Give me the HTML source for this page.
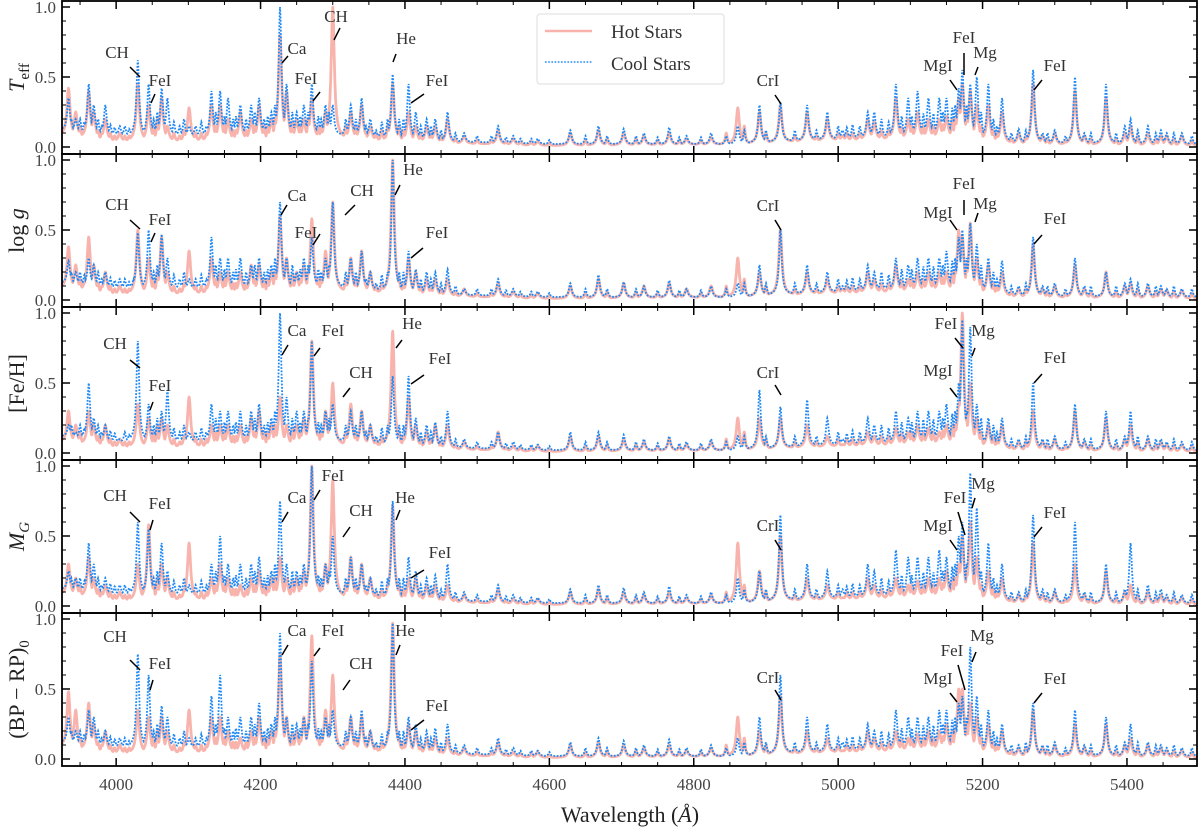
<!DOCTYPE html>
<html><head><meta charset="utf-8"><style>
html,body{margin:0;padding:0;background:#fff}
svg{display:block;font-family:"Liberation Serif","DejaVu Serif",serif}
</style></head><body>
<svg id="chart" width="1200" height="829" viewBox="0 0 1200 829" xmlns="http://www.w3.org/2000/svg"></svg>
<script>
// ---- data ----
const lineWavelengths=[3934,3944,3962,3969,3985,4005,4030,4045,4063,4071,4101,
4132,4144,4155,4172,4187,4198,4215,4227,4236,4250,
4260,4271,4290,4300,4325,4340,4352,4383,4405,4415,
4430,4442,4459,4482,4529,4550,4584,4629,4668,4703,
4731,4766,4790,4824,4861,4891,4920,4957,4985,5006,
5041,5050,5080,5097,5110,5125,5140,5150,5167,5172,
5183,5192,5208,5227,5250,5270,5283,5300,5328,5341,
5371,5397,5405,5429,5447,5455,5476];
const panelLabels=["Teff","logg","FeH","MG","BPRP"];
const hotTeff=[.42,.25,.4,.25,.2,.1,.45,.3,.35,.15,.28, .3,.3,.2,.25,.2,.3,.2,.8,.4,.2, .2,.35,.25,1.0,.25,.3,.15,.45,.25,.15, .15,.15,.2,.08,.12,.06,.04,.1,.12,.1, .08,.1,.06,.07,.28,.25,.3,.25,.2,.08, .2,.18,.35,.2,.25,.2,.2,.22,.35,.45, .4,.3,.3,.25,.1,.45,.08,.1,.4,.08, .35,.1,.15,.1,.08,.08,.08];
const coolTeff=[.35,.2,.45,.3,.3,.15,.62,.45,.42,.35,.15, .4,.4,.35,.3,.3,.35,.25,1.0,.45,.25, .3,.45,.3,.3,.3,.35,.2,.52,.45,.25, .2,.2,.25,.1,.15,.08,.06,.12,.15,.13, .1,.14,.08,.1,.15,.3,.32,.3,.25,.12, .25,.25,.45,.35,.4,.35,.35,.35,.42,.55, .45,.5,.45,.35,.13,.55,.1,.12,.5,.1, .45,.15,.2,.15,.12,.1,.1];
const hotLogg=[.38,.25,.45,.25,.2,.1,.5,.3,.45,.2,.35, .3,.2,.2,.2,.25,.25,.2,.6,.3,.2, .25,.58,.35,.7,.3,.35,.2,1.0,.3,.2, .15,.15,.15,.08,.12,.06,.05,.1,.15,.12, .1,.12,.08,.1,.3,.2,.5,.2,.15,.08, .2,.15,.25,.15,.2,.2,.2,.2,.5,.45, .55,.3,.25,.2,.08,.4,.08,.1,.25,.08, .2,.1,.12,.1,.08,.07,.07];
const coolLogg=[.28,.2,.3,.25,.2,.15,.48,.5,.47,.3,.15, .45,.3,.3,.3,.25,.3,.25,.7,.3,.2, .3,.45,.3,.7,.3,.35,.2,1.0,.35,.22, .2,.2,.22,.08,.15,.08,.06,.12,.18,.13, .1,.14,.08,.1,.12,.25,.5,.25,.2,.1, .25,.2,.3,.25,.3,.3,.3,.35,.45,.5, .55,.4,.3,.28,.1,.45,.1,.12,.3,.1, .2,.12,.15,.12,.1,.08,.08];
const hotFeH=[.3,.2,.3,.2,.2,.1,.35,.25,.25,.2,.4, .2,.2,.2,.2,.25,.3,.2,.4,.2,.2, .25,.8,.3,.5,.35,.3,.2,.87,.4,.2, .15,.2,.2,.08,.15,.05,.05,.12,.12,.1, .08,.1,.06,.08,.25,.25,.25,.2,.12,.06, .15,.12,.18,.15,.2,.18,.15,.2,.35,1.0, .5,.25,.2,.2,.08,.3,.08,.1,.3,.08, .25,.1,.2,.1,.08,.06,.06];
const coolFeH=[.2,.15,.5,.25,.2,.1,.8,.35,.3,.45,.15, .35,.3,.3,.3,.3,.35,.25,1.0,.4,.3, .3,.8,.3,.35,.3,.3,.2,.55,.55,.25, .2,.22,.3,.1,.15,.08,.06,.15,.15,.13, .1,.12,.08,.1,.12,.45,.33,.38,.25,.1, .25,.2,.3,.25,.3,.3,.3,.35,.5,.95, .9,.35,.25,.25,.1,.5,.1,.12,.35,.1, .3,.12,.3,.12,.1,.08,.08];
const hotMG=[.3,.2,.35,.2,.15,.1,.3,.58,.3,.2,.45, .2,.3,.2,.15,.2,.25,.2,.35,.2,.2, .25,1.0,.3,.9,.35,.3,.2,.72,.2,.2, .15,.15,.15,.08,.12,.05,.05,.1,.12,.1, .08,.1,.06,.08,.45,.25,.5,.2,.15,.06, .2,.15,.2,.15,.18,.2,.2,.25,.3,.5, .6,.35,.25,.2,.08,.45,.08,.1,.3,.08, .25,.1,.15,.1,.08,.06,.06];
const coolMG=[.25,.2,.45,.3,.2,.15,.6,.55,.45,.25,.15, .3,.5,.3,.3,.3,.35,.25,.75,.3,.25, .3,1.0,.3,.5,.35,.3,.2,.75,.35,.25, .2,.22,.3,.1,.15,.08,.06,.12,.15,.13, .1,.14,.08,.1,.2,.25,.65,.3,.25,.12, .3,.25,.4,.35,.35,.35,.4,.35,.5,.6, .95,.7,.45,.3,.1,.65,.12,.12,.6,.1, .3,.12,.45,.15,.12,.08,.08];
const hotBPRP=[.48,.35,.4,.25,.2,.1,.35,.3,.3,.2,.35, .3,.3,.2,.15,.2,.3,.2,.75,.3,.2, .3,.88,.35,.6,.3,.3,.2,.97,.25,.2, .15,.15,.15,.08,.12,.05,.05,.1,.12,.1, .08,.1,.06,.08,.3,.2,.45,.2,.15,.06, .2,.15,.2,.15,.18,.2,.2,.25,.5,.5, .4,.3,.25,.2,.08,.35,.08,.1,.25,.08, .25,.1,.15,.1,.08,.06,.06];
const coolBPRP=[.3,.2,.35,.3,.2,.15,.75,.6,.38,.3,.15, .45,.6,.3,.3,.3,.4,.25,.9,.3,.25, .3,.7,.3,.35,.3,.35,.2,.97,.3,.25, .2,.22,.25,.1,.15,.08,.06,.12,.15,.13, .1,.14,.08,.1,.15,.3,.6,.3,.25,.12, .25,.2,.35,.3,.3,.3,.35,.35,.4,.45, .8,.45,.35,.25,.1,.4,.1,.12,.35,.1, .3,.12,.25,.12,.1,.08,.08];
const weakWavelengths=[3938,3950,3956,3975,3980,3992,3998,4012,4018,4024,4052,4057,4080,4088,4094,4110,4118,4125,4138,4150,4162,4166,4180,4192,4205,4210,4220,4244,4255,4266,4280,4284,4295,4318,4332,4346,4360,4368,4376,4392,4398,4422,4436,4450,4470,4500,4520,4540,4560,4575,4600,4650,4680,4720,4750,4780,4810,4845,4870,4900,4940,4970,5000,5012,5020,5030,5060,5070,5088,5102,5118,5132,5145,5158,5162,5178,5198,5215,5220,5240,5260,5290,5315,5350,5385,5415,5440,5465,5490];
const coolWeak=[.2,.2,.18,.2,.15,.16,.14,.15,.13,.15,.2,.25,.18,.15,.2,.15,.18,.15,.25,.22,.2,.22,.2,.25,.2,.22,.3,.25,.22,.25,.22,.2,.25,.2,.2,.15,.12,.18,.2,.2,.2,.15,.15,.12,.1,.08,.08,.07,.06,.06,.05,.08,.08,.08,.07,.07,.07,.08,.12,.12,.12,.12,.15,.14,.16,.15,.2,.18,.22,.22,.24,.24,.25,.28,.3,.3,.25,.2,.15,.1,.12,.1,.08,.1,.1,.12,.1,.1,.08];
const hotWeak=[.12,.15,.1,.12,.1,.1,.08,.08,.08,.08,.15,.2,.1,.08,.12,.1,.1,.1,.15,.15,.12,.12,.12,.15,.15,.15,.2,.18,.15,.2,.15,.15,.2,.15,.15,.1,.1,.12,.15,.15,.12,.1,.1,.08,.06,.05,.05,.04,.04,.04,.03,.05,.06,.06,.05,.05,.05,.1,.15,.1,.08,.08,.1,.1,.1,.1,.12,.12,.14,.15,.15,.15,.16,.2,.2,.25,.15,.12,.1,.06,.08,.06,.05,.06,.06,.08,.06,.06,.05];
const baseKnotsX=[3925,4000,4200,4300,4450,4600,4850,5000,5160,5250,5500];
const hotBase=[.08,.04,.05,.06,.03,.01,.02,.05,.07,.02,.01];
const coolBase=[.12,.08,.09,.09,.04,.02,.02,.06,.1,.03,.02];
const xTicks=[4000,4200,4400,4600,4800,5000,5200,5400];
const yTicks=[0,0.5,1.0];
const yTickLabels=["0.0","0.5","1.0"];

const hotSeries=[hotTeff,hotLogg,hotFeH,hotMG,hotBPRP];
const coolSeries=[coolTeff,coolLogg,coolFeH,coolMG,coolBPRP];

// ---- layout ----
const svg=document.getElementById('chart');
const NS='http://www.w3.org/2000/svg';
const L=62,R=1197,X0=3925,X1=5497;
const tops=[1,154,307,460,613],PH=153;
function xs(l){return L+(l-X0)*(R-L)/(X1-X0);}
function ys(k,v){return tops[k]+6+(1-v)*140;}
function mk(tag,attrs,parent){const e=document.createElementNS(NS,tag);for(const a in attrs)e.setAttribute(a,attrs[a]);(parent||svg).appendChild(e);return e;}
function interp(kx,kv,l){for(let i=0;i<kx.length-1;i++){if(l<=kx[i+1]){const t=(l-kx[i])/(kx[i+1]-kx[i]);return kv[i]+t*(kv[i+1]-kv[i]);}}return kv[kv.length-1];}
function spectrum(heights,weak,base,w){const pts=[];for(let l=X0;l<=X1;l+=0.5){const b=interp(baseKnotsX,base,l);let v=b;
 for(let i=0;i<lineWavelengths.length;i++){const d=(l-lineWavelengths[i])/w;if(Math.abs(d)<40){const p=b+(heights[i]-b)/(1+d*d);if(p>v)v=p;}}
 for(let i=0;i<weakWavelengths.length;i++){const d=(l-weakWavelengths[i])/1.6;if(Math.abs(d)<20){const p=b+(weak[i]-b)/(1+d*d);if(p>v)v=p;}}
 pts.push([l,v]);}return pts;}

const yTitles=[
 ['<tspan font-style="italic">T</tspan><tspan font-size="15" dy="5">eff</tspan>'],
 ['log <tspan font-style="italic">g</tspan>'],
 ['[Fe/H]'],
 ['<tspan font-style="italic">M</tspan><tspan font-size="15" dy="5" font-style="italic">G</tspan>'],
 ['(BP − RP)<tspan font-size="15" dy="5">0</tspan>']];

const ann=[
 [["CH",117,51,130,66,140,76],["FeI",160,79,155,93,151,102],["Ca",297,47,288,55,282,62],["CH",336,15,340,27,334,39],["FeI",306,77,320,91,313,100],["He",406,37,396,53,393,61],["FeI",437,79,424,93,411,102],["CrI",768,79,775,94,781,103],["MgI",938,64,950,79,957,89],["FeI",964,36,964,52,964,74],["Mg",985,51,978,66,975,74],["FeI",1055,64,1042,79,1034,89]],
 [["CH",117,50,130,66,140,75],["FeI",160,65,155,79,151,88],["Ca",297,41,287,51,281,61],["FeI",306,78,320,80,313,91],["CH",362,36,355,51,345,61],["He",413,15,400,31,395,41],["FeI",437,78,423,94,411,104],["CrI",768,51,775,66,781,76],["MgI",938,58,950,66,957,76],["FeI",964,29,964,46,964,61],["Mg",985,49,978,59,975,68],["FeI",1055,64,1042,81,1034,90]],
 [["CH",115,36,130,53,140,61],["FeI",160,78,153,95,150,103],["Ca",297,23,288,38,282,48],["FeI",333,23,320,41,314,49],["CH",361,65,350,81,343,90],["He",412,16,402,33,396,41],["FeI",440,51,424,68,411,77],["CrI",768,65,775,78,781,88],["FeI",946,16,955,31,963,41],["Mg",983,23,975,41,972,49],["MgI",938,63,950,81,957,90],["FeI",1055,50,1042,67,1034,76]],
 [["CH",115,35,130,52,140,62],["FeI",160,43,153,60,150,70],["Ca",297,37,288,52,282,62],["FeI",333,15,320,30,314,40],["CH",361,50,350,67,343,77],["He",405,37,400,50,396,60],["FeI",440,92,424,110,411,118],["CrI",768,65,775,80,781,90],["Mg",983,23,975,38,972,48],["FeI",955,37,958,52,965,75],["MgI",938,65,950,80,957,90],["FeI",1055,52,1042,67,1034,77]],
 [["CH",115,23,130,47,140,57],["FeI",160,50,153,67,150,77],["Ca",297,17,288,32,282,42],["FeI",333,17,320,35,314,43],["CH",361,50,350,67,343,77],["He",405,17,400,32,396,42],["FeI",437,92,424,107,411,117],["CrI",768,64,775,77,781,87],["Mg",982,22,976,39,972,49],["FeI",952,37,958,52,965,77],["MgI",938,65,950,80,957,89],["FeI",1055,65,1042,80,1034,90]]
];

for(let k=0;k<5;k++){
 const g=mk('g',{});
 
 
 const clipId='clip'+k;
 const cp=mk('clipPath',{id:clipId},g);mk('rect',{x:L,y:tops[k],width:R-L,height:PH},cp);
 const hot=spectrum(hotSeries[k],hotWeak,hotBase,2.6);
 const cool=spectrum(coolSeries[k],coolWeak,coolBase,2.2);
 const hp=mk('path',{d:'M'+hot.map(p=>xs(p[0]).toFixed(1)+','+ys(k,p[1]).toFixed(1)).join('L'),fill:'none',stroke:'#f8b4ac',"stroke-width":2.8,"stroke-linejoin":"round","clip-path":`url(#${clipId})`},g);
 
 
 const cpth=mk('path',{d:'M'+cool.map(p=>xs(p[0]).toFixed(1)+','+ys(k,p[1]).toFixed(1)).join('L'),fill:'none',stroke:'#1e88f5',"stroke-width":1.8,"stroke-dasharray":"1.8 1.5","clip-path":`url(#${clipId})`},g);
 
 
 for(let l=3950;l<=X1;l+=50){const major=(l%200===0);const len=major?8:4;const x=xs(l);
  mk('line',{x1:x,x2:x,y1:tops[k],y2:tops[k]+len,stroke:'#000','stroke-width':major?1.5:1},g);
  mk('line',{x1:x,x2:x,y1:tops[k]+PH,y2:tops[k]+PH-len,stroke:'#000','stroke-width':major?1.5:1},g);}
 for(let i=0;i<=10;i++){const v=i/10;const major=(i%5===0);const len=major?8:4;const y=ys(k,v);
  mk('line',{x1:L,x2:L+len,y1:y,y2:y,stroke:'#000','stroke-width':major?1.5:1},g);
  mk('line',{x1:R,x2:R-len,y1:y,y2:y,stroke:'#000','stroke-width':major?1.5:1},g);}
 yTicks.forEach((v,i)=>{const t=mk('text',{x:L-6,y:ys(k,v)+6,'text-anchor':'end','font-size':17,fill:'#444'},g);t.textContent=yTickLabels[i];
  
  });
 const yt=mk('text',{transform:`translate(24,${tops[k]+PH/2}) rotate(-90)`,'text-anchor':'middle','font-size':22,fill:'#222'},g);
 yt.innerHTML=yTitles[k][0];
 
 
 ann[k].forEach(a=>{
  const t=mk('text',{x:a[1],y:tops[k]+a[2]+6,'text-anchor':'middle','font-size':17,fill:'#333'},g);t.textContent=a[0];
  
  
  mk('line',{x1:a[3],y1:tops[k]+a[4],x2:a[5],y2:tops[k]+a[6],stroke:'#000','stroke-width':1.5},g);
 });
 mk('rect',{x:L,y:tops[k],width:R-L,height:PH,fill:'none',stroke:'#000','stroke-width':1.8},g);
}
xTicks.forEach(l=>{const t=mk('text',{x:xs(l),y:790,'text-anchor':'middle','font-size':17,fill:'#444'});t.textContent=l;
 
 });
const xt=mk('text',{x:630,y:822,'text-anchor':'middle','font-size':22,fill:'#222'});
xt.innerHTML='Wavelength (<tspan font-style="italic">Å</tspan>)';


const lg=mk('g',{});


mk('rect',{x:537,y:14,width:187,height:70,rx:3,fill:'#fff','fill-opacity':0.9,stroke:'#ddd'},lg);
mk('line',{x1:545,x2:592,y1:31,y2:31,stroke:'#f8b4ac','stroke-width':2.6},lg);
mk('line',{x1:545,x2:592,y1:62,y2:62,stroke:'#1e88f5','stroke-width':1.6,'stroke-dasharray':'1.6 1.6'},lg);
const l1=mk('text',{x:611,y:38,'font-size':19,fill:'#333'},lg);l1.textContent='Hot Stars';


const l2=mk('text',{x:611,y:70,'font-size':19,fill:'#333'},lg);l2.textContent='Cool Stars';


</script>
</body></html>
